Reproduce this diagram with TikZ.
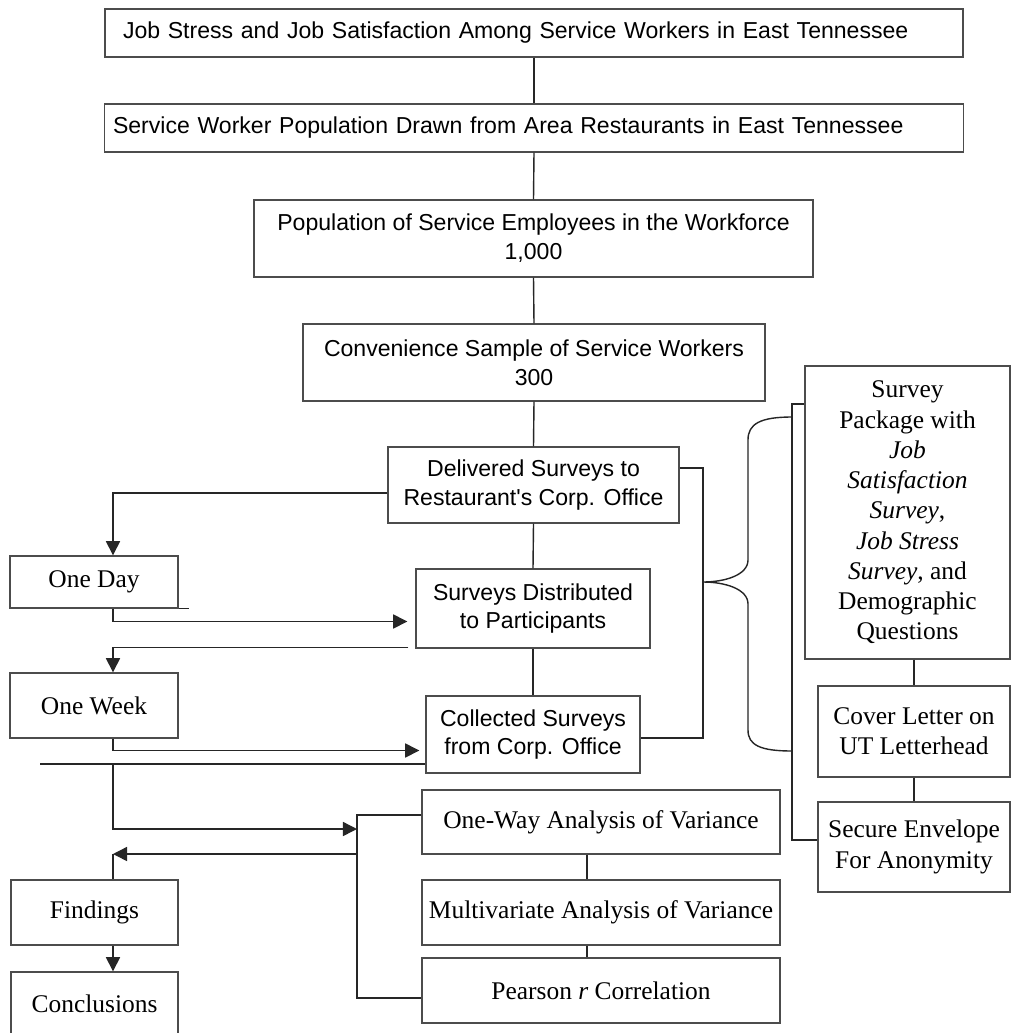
\documentclass[tikz,border=0pt]{standalone}
\usepackage{fontspec}
\setmainfont{Liberation Serif}
\newfontfamily\arialfam{Liberation Sans}
\usetikzlibrary{arrows.meta,calc}
\newlength\px
\setlength\px{0.025cm}
\newcommand{\sanstxt}{\arialfam\fontsize{16.4}{20.5}\selectfont}
\newcommand{\seriftxt}{\fontsize{18.1}{21.5}\selectfont}

\tikzset{
  sbox/.style={draw=black!70, line width=1pt, font=\sanstxt, align=center, inner sep=0pt},
  rbox/.style={draw=black!70, line width=1pt, font=\seriftxt, align=center, inner sep=0pt},
  link/.style={line width=1pt, black!85},
  arr/.style={link, -{Triangle[length=10pt,width=10pt]}}
}

\begin{document}
\begin{tikzpicture}[x=0.025cm,y=-0.025cm]
  \path[use as bounding box, fill=white] (0,0) rectangle (1012,1033);

  % main column
  \node[sbox, minimum width=858\px, minimum height=48\px, text width=822\px, align=left] (title) at (534,33)
    {Job Stress and Job Satisfaction Among Service Workers in East Tennessee};
  \node[sbox, minimum width=859\px, minimum height=48\px, text width=842\px, align=left] (pop) at (534,128)
    {Service Worker Population Drawn from Area Restaurants in East Tennessee};
  \node[sbox, minimum width=559\px, minimum height=77\px] (emp) at (533.5,238.5)
    {Population of Service Employees in the Workforce\\1,000};
  \node[sbox, minimum width=462\px, minimum height=77\px] (sample) at (534,362.5)
    {Convenience Sample of Service Workers\\300};
  \node[sbox, minimum width=291\px, minimum height=76\px] (deliv) at (533.5,485)
    {Delivered Surveys to\\Restaurant's Corp. Office};
  \node[sbox, minimum width=234\px, minimum height=79\px] (distr) at (533,608.5)
    {Surveys Distributed\\to Participants};
  \node[sbox, minimum width=214\px, minimum height=77\px] (coll) at (533,734.5)
    {Collected Surveys\\from Corp. Office};

  % survey materials
  \node[rbox, minimum width=205\px, minimum height=293\px] (pkg) at (907.5,512.5)
    {Survey\\Package with\\\textit{Job}\\\textit{Satisfaction}\\\textit{Survey},\\\textit{Job Stress}\\\textit{Survey}, and\\Demographic\\Questions};
  \node[rbox, minimum width=192\px, minimum height=91\px] (letter) at (914,731.5)
    {Cover Letter on\\UT Letterhead};
  \node[rbox, minimum width=192\px, minimum height=90\px] (envel) at (914,847)
    {Secure Envelope\\For Anonymity};

  % time steps and results
  \node[rbox, minimum width=168\px, minimum height=52\px] (oneday) at (94,582) {One Day};
  \node[rbox, minimum width=168\px, minimum height=65\px] (oneweek) at (94,705.5) {One Week};
  \node[rbox, minimum width=167\px, minimum height=65\px] (findings) at (94.5,912.5) {Findings};
  \node[rbox, minimum width=167\px, minimum height=64\px] (concl) at (94.5,1004) {Conclusions};

  % analyses
  \node[rbox, minimum width=358\px, minimum height=64\px] (anova) at (601,822) {One-Way Analysis of Variance};
  \node[rbox, minimum width=358\px, minimum height=65\px] (manova) at (601,912.5) {Multivariate Analysis of Variance};
  \node[rbox, minimum width=358\px, minimum height=65\px] (pearson) at (601,990.5) {Pearson \textit{r} Correlation};

  \foreach \a/\b in {title/pop, pop/emp, emp/sample, sample/deliv, deliv/distr, distr/coll}
    \draw[link] (\a.south) -- (\b.north);
  \draw[link] (pkg.south -| letter.north) -- (letter.north);
  \draw[link] (letter.south) -- (envel.north);
  \draw[link] ($(anova.south)+(-14,0)$) -- ($(manova.north)+(-14,0)$);
  \draw[link] ($(manova.south)+(-14,0)$) -- ($(pearson.north)+(-14,0)$);

  % delivered -> collected
  \coordinate (dtop) at (703,468);
  \coordinate (dbot) at (703,738);
  \draw[link] (deliv.east |- dtop) -- (dtop) -- (dbot) -- (coll.east |- dbot);

  % bracket and brace
  \coordinate (railtop) at (792,404);
  \coordinate (railbot) at (792,840);
  \draw[link] (pkg.west |- railtop) -- (railtop) -- (railbot) -- (envel.west |- railbot);
  \draw[link] (792,417) .. controls (760,417) and (748,424) .. (748,440) -- (748,560)
    .. controls (748,575) and (725,582) .. (703,582)
    .. controls (725,582) and (748,589) .. (748,604) -- (748,730)
    .. controls (748,745) and (760,751) .. (792,751);

  % left side
  \coordinate (lx) at (113,0);
  \draw[arr] ($(deliv.west)+(0,8)$) -| (oneday.north -| lx);
  \draw[link] (oneday.south east) -- ++(10,0);
  \draw[arr] (oneday.south -| lx) |- ($(distr.west)+(-8,13)$);
  \draw[arr] ($(distr.south west)+(-7,-1)$) -| (oneweek.north -| lx);
  \draw[arr] (oneweek.south -| lx) |- ($(coll.west)+(-6,16)$);
  \coordinate (cut) at (40,764);
  \draw[link] (cut) -- (cut -| coll.west);
  \coordinate (split) at (cut -| lx);
  \coordinate (bin) at (357,829);
  \draw[arr] (split) |- (bin);
  \coordinate (btop) at (357,815);
  \coordinate (bbot) at (357,998);
  \draw[link] (anova.west |- btop) -- (btop) -- (bbot) -- (pearson.west |- bbot);
  \coordinate (bout) at (357,854);
  \draw[arr] (bout) -- (bout -| lx);
  \draw[link] (findings.north -| lx) -- (bout -| lx);
  \draw[arr] (findings.south -| lx) -- (concl.north -| lx);
\end{tikzpicture}
\end{document}
